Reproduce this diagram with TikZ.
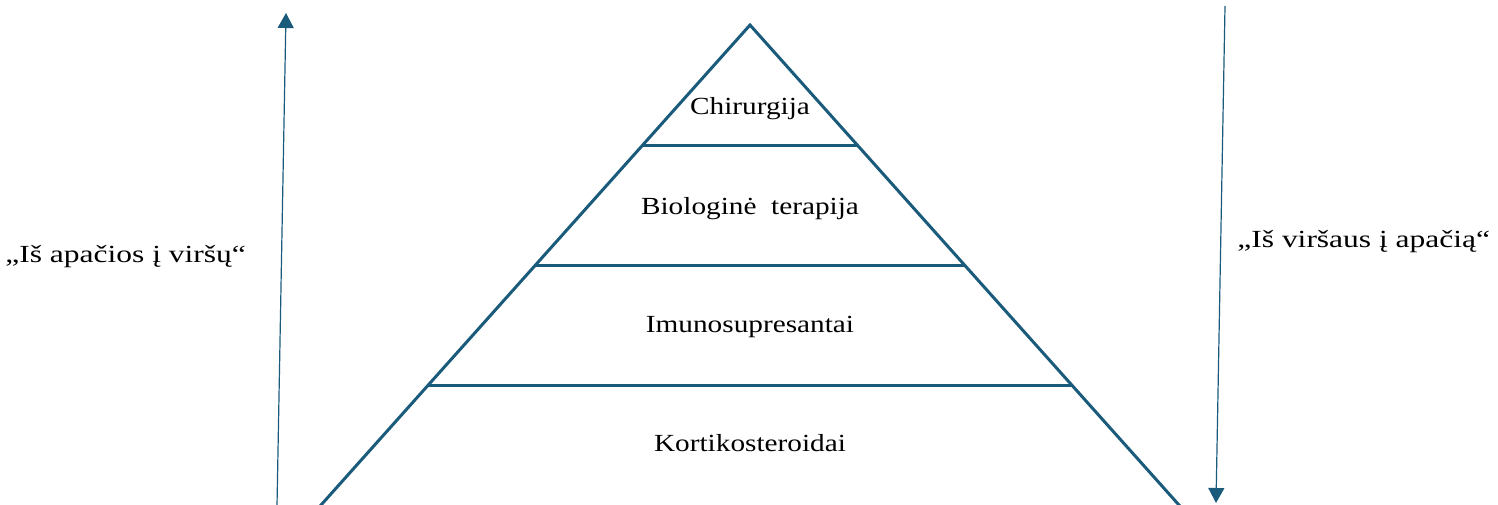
\documentclass[tikz,border=0pt]{standalone}
\usepackage{fontspec}
\setmainfont{Liberation Serif}
\usetikzlibrary{arrows.meta}
\definecolor{pyr}{HTML}{1A5B7C}
\newcommand{\wide}[2]{\scalebox{#1}[1]{#2}}
\tikzset{
  edge/.style={draw=pyr,line width=1.5pt},
  flow/.style={draw=pyr,line width=0.6pt,-{Triangle[length=7.5pt,width=8pt]}},
  lbl/.style={inner sep=0pt,anchor=base,font=\fontsize{12.3pt}{14pt}\selectfont},
}
\begin{document}
\begin{tikzpicture}[x=0.5pt,y=-0.5pt]
\useasboundingbox (0,0) rectangle (1498,504);
\clip (0,0) rectangle (1498,504);
% pyramid
\coordinate (apex) at (750,25);
\coordinate (bl) at (313,514);
\coordinate (br) at (1187,514);
\coordinate (l1) at (643.3,145.7);
\coordinate (r1) at (856.7,145.7);
\coordinate (l2) at (535.8,265.7);
\coordinate (r2) at (964.2,265.7);
\coordinate (l3) at (428.3,385.7);
\coordinate (r3) at (1071.7,385.7);
\draw[edge,line join=miter] (bl) -- (apex) -- (br);
\draw[edge] (l1) -- (r1);
\draw[edge] (l2) -- (r2);
\draw[edge] (l3) -- (r3);
% labels
\node[lbl] (chir) at (750,114.5) {\wide{1.19}{Chirurgija}};
\node[lbl] (bio) at (750,214.5) {\wide{1.19}{Biologinė\ \ terapija}};
\node[lbl] (imu) at (750,332.5) {\wide{1.19}{Imunosupresantai}};
\node[lbl] (kort) at (750,451.5) {\wide{1.19}{Kortikosteroidai}};
% arrows
\coordinate (upS) at (277,506);
\coordinate (upE) at (286,13);
\draw[flow] (upS) -- (upE);
\coordinate (dnS) at (1225,6);
\coordinate (dnE) at (1216,503);
\draw[flow] (dnS) -- (dnE);
\node[lbl,anchor=base west] (left) at (5,262) {\wide{1.28}{„Iš apačios į viršų“}};
\node[lbl,anchor=base west] (right) at (1237,247) {\wide{1.28}{„Iš viršaus į apačią“}};
\end{tikzpicture}
\end{document}
